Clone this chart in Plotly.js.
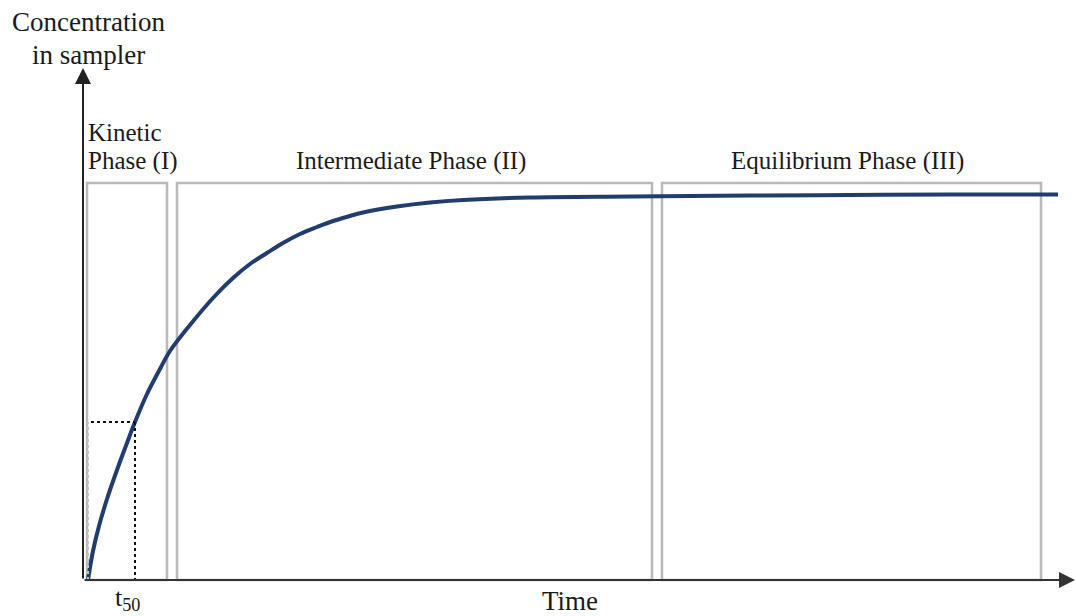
<!DOCTYPE html>
<html>
<head>
<meta charset="utf-8">
<script src="https://cdn.plot.ly/plotly-3.0.1.min.js"></script>
<style>html,body{margin:0;padding:0;background:#fff}#chart{width:1076px;height:616px}</style>
</head>
<body>
<div id="chart"></div>
<script>
// Schematic curve: time (arbitrary units) vs concentration in sampler (arbitrary units)
const timeValues = [0.5, 1.0, 1.6, 2.4, 3.4, 4.4, 5.2, 6.4, 7.7, 8.7, 10.7, 13.0, 15.0, 16.7, 18.4, 20.0, 21.7, 23.4, 25.0, 26.7, 28.0, 31.4, 34.7, 38.0, 44.7, 54.7, 66.7, 76.7, 86.7, 97.5];
const concValues = [0, 2.9, 5.4, 8.1, 11.0, 13.7, 15.8, 18.6, 21.1, 22.9, 25.5, 28.2, 30.2, 31.6, 32.7, 33.7, 34.6, 35.3, 35.9, 36.4, 36.75, 37.35, 37.75, 38.0, 38.25, 38.35, 38.45, 38.5, 38.55, 38.55];

// Phase boxes
const phaseNames = ["Kinetic", "Intermediate Phase (II)", "Equilibrium Phase (III)"];
const phaseStart = [0.4, 9.4, 57.9];
const phaseEnd = [8.4, 56.9, 95.8];
const phaseTop = 39.7;

// t50 marker
const t50 = 5.2;
const c50 = 15.8;

// Axis extents (arrow tips)
const xAxisEnd = 99.2;
const yAxisEnd = 51.2;

const serif = "Liberation Serif, Times New Roman, serif";
const txt = "#1a1a1a";

const shapes = [];
for (let i = 0; i < phaseStart.length; i++) {
  shapes.push({type: "rect", xref: "x", yref: "y", x0: phaseStart[i], x1: phaseEnd[i], y0: 0, y1: phaseTop,
    line: {color: "#b9b9b9", width: 2.5}, fillcolor: "rgba(0,0,0,0)", layer: "below"});
}
// t50 guide lines
shapes.push({type: "line", xref: "x", yref: "y", x0: timeValues[0], x1: timeValues[0], y0: 0, y1: c50, line: {color: "#c4c4c4", width: 2, dash: "dot"}});
shapes.push({type: "line", xref: "x", yref: "y", x0: timeValues[0], x1: t50, y0: 0, y1: 0, line: {color: "#c4c4c4", width: 2, dash: "dot"}});
shapes.push({type: "line", xref: "x", yref: "y", x0: timeValues[0] + 0.3, x1: t50, y0: c50, y1: c50, line: {color: "#111", width: 2, dash: "dot"}});
shapes.push({type: "line", xref: "x", yref: "y", x0: t50, x1: t50, y0: c50, y1: 0, line: {color: "#111", width: 2, dash: "dot"}});

const annotations = [
  // axes with arrowheads
  {x: 0, y: yAxisEnd, ax: 0, ay: 0, xref: "x", yref: "y", axref: "x", ayref: "y", text: "", showarrow: true,
   arrowhead: 2, arrowsize: 1.6, arrowwidth: 2, arrowcolor: "#222", standoff: 0, startstandoff: 0},
  {x: xAxisEnd, y: 0, ax: 0, ay: 0, xref: "x", yref: "y", axref: "x", ayref: "y", text: "", showarrow: true,
   arrowhead: 2, arrowsize: 1.6, arrowwidth: 2, arrowcolor: "#333", standoff: 0, startstandoff: 0},
  // axis labels
  {x: 0.5, y: 55.8, xref: "x", yref: "y", text: "Concentration", showarrow: false, font: {family: serif, size: 27, color: txt}, xanchor: "center", yanchor: "middle"},
  {x: 0.5, y: 52.5, xref: "x", yref: "y", text: "in sampler", showarrow: false, font: {family: serif, size: 27, color: txt}, xanchor: "center", yanchor: "middle"},
  {x: 48.7, y: -2.1, xref: "x", yref: "y", text: "Time", showarrow: false, font: {family: serif, size: 27, color: txt}, xanchor: "center", yanchor: "middle"},
  {x: t50 - 0.8, y: -1.9, xref: "x", yref: "y", text: "t<sub>50</sub>", showarrow: false, font: {family: serif, size: 26, color: txt}, xanchor: "center", yanchor: "middle"},
  // phase labels
  {x: phaseStart[0] - 0.1, y: 44.8, xref: "x", yref: "y", text: phaseNames[0], showarrow: false, font: {family: serif, size: 25, color: txt}, xanchor: "left", yanchor: "middle"},
  {x: phaseStart[0] - 0.1, y: 41.9, xref: "x", yref: "y", text: "Phase (I)", showarrow: false, font: {family: serif, size: 25, color: txt}, xanchor: "left", yanchor: "middle"},
  {x: 32.8, y: 41.9, xref: "x", yref: "y", text: phaseNames[1], showarrow: false, font: {family: serif, size: 25, color: txt}, xanchor: "center", yanchor: "middle"},
  {x: 76.4, y: 41.9, xref: "x", yref: "y", text: phaseNames[2], showarrow: false, font: {family: serif, size: 25, color: txt}, xanchor: "center", yanchor: "middle"}
];

const trace = {
  x: timeValues, y: concValues, type: "scatter", mode: "lines",
  line: {color: "#213d6f", width: 4, shape: "spline", smoothing: 1},
  hoverinfo: "skip"
};

const layout = {
  width: 1076, height: 616,
  margin: {l: 0, r: 0, t: 0, b: 0, pad: 0},
  paper_bgcolor: "#fff", plot_bgcolor: "#fff",
  showlegend: false,
  xaxis: {range: [-8.3, 99.3], visible: false, fixedrange: true},
  yaxis: {range: [-3.6, 58.0], visible: false, fixedrange: true},
  shapes: shapes,
  annotations: annotations
};

Plotly.newPlot("chart", [trace], layout, {staticPlot: true, displayModeBar: false});
</script>
</body>
</html>
